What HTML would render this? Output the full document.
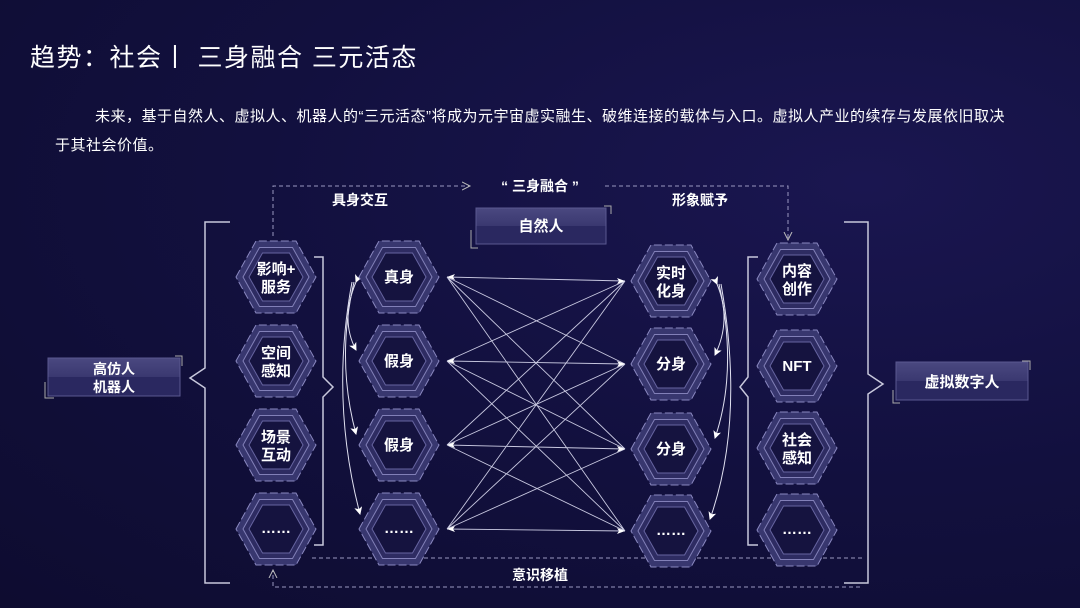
<!DOCTYPE html>
<html><head><meta charset="utf-8"><style>
html,body{margin:0;padding:0;}
body{width:1080px;height:608px;overflow:hidden;background:radial-gradient(ellipse at 80% 30%,#1a1650 0%,#12103e 50%,#0e0c30 100%);font-family:"Liberation Sans","Noto Sans CJK SC",sans-serif;color:#fff;position:relative;}
.t{position:absolute;left:30px;top:38px;font-size:25px;color:#fff;letter-spacing:1.5px;}
.p{position:absolute;left:55px;top:102px;width:955px;font-size:15px;letter-spacing:0.5px;line-height:29px;text-indent:40px;color:#fff;}
svg{position:absolute;left:0;top:0;}
svg text{font-family:"Liberation Sans","Noto Sans CJK SC",sans-serif;fill:#fff;font-weight:bold;text-anchor:middle;}
</style></head><body>
<div class="t">趋势：社会丨 三身融合 三元活态</div>
<div class="p">未来，基于自然人、虚拟人、机器人的“三元活态”将成为元宇宙虚实融生、破维连接的载体与入口。虚拟人产业的续存与发展依旧取决于其社会价值。</div>
<svg width="1080" height="608" viewBox="0 0 1080 608">
<defs>
<g id="hx">
<polygon points="-40,0 -20,-36 20,-36 40,0 20,36 -20,36" fill="#38376f" stroke="#8a88c0" stroke-width="1" stroke-dasharray="8,3"/>
<polygon points="-33,0 -16.5,-29.5 16.5,-29.5 33,0 16.5,29.5 -16.5,29.5" fill="#2e2c62" stroke="#8280b8" stroke-width="1"/>
<polygon points="-27,0 -13.5,-24 13.5,-24 27,0 13.5,24 -13.5,24" fill="#15133f" stroke="#6664a0" stroke-width="1"/>
</g>
<marker id="ar" markerWidth="8" markerHeight="8" refX="7" refY="4" orient="auto"><path d="M0,0 L8,4 L0,8 L2,4z" fill="#fff"/></marker>
<marker id="ad" markerWidth="10" markerHeight="10" refX="8" refY="5" orient="auto"><path d="M0,1 L8,5 L0,9" fill="none" stroke="#bbb" stroke-width="1"/></marker>
<linearGradient id="bx" x1="0" y1="0" x2="0" y2="1"><stop offset="0" stop-color="#4a4880"/><stop offset="0.5" stop-color="#3a3870"/><stop offset="0.5" stop-color="#2a2860"/><stop offset="1" stop-color="#2a2860"/></linearGradient>
</defs>
<g fill="none" stroke="#9a98c0" stroke-width="1" stroke-dasharray="4,3">
<path d="M273,236 V186 H470" marker-end="url(#ad)"/>
<path d="M605,186 H788 V240" marker-end="url(#ad)"/>
<path d="M312,558 H862"/>
<path d="M860,587 H273 V570" marker-end="url(#ad)"/>
</g>
<text x="360" y="205" font-size="14" font-weight="bold">具身交互</text>
<text x="540" y="191" font-size="14">“ 三身融合 ”</text>
<text x="700" y="205" font-size="14">形象赋予</text>
<text x="540" y="580" font-size="14">意识移植</text>
<g>
<rect x="476" y="208" width="130" height="36" fill="url(#bx)" stroke="#5a5890"/>
<path d="M471,230 V248 H478 M604,206 H611 V214" stroke="#aaa" fill="none"/>
<text x="541" y="231" font-size="15">自然人</text>
<rect x="48" y="358" width="132" height="38" fill="url(#bx)" stroke="#5a5890"/>
<path d="M45,382 V398 H54 M175,356 H182 V366" stroke="#aaa" fill="none"/>
<text x="114" y="374" font-size="14">高仿人</text>
<text x="114" y="392" font-size="14">机器人</text>
<rect x="896" y="362" width="132" height="38" fill="url(#bx)" stroke="#5a5890"/>
<path d="M893,390 V403 H900 M1022,361 H1030 V370" stroke="#aaa" fill="none"/>
<text x="962" y="387" font-size="15">虚拟数字人</text>
</g>
<g fill="none" stroke="#c8c8dc" stroke-width="1.5">
<path d="M230,222 H205 V368 L190,378 L205,388 V583 H230"/>
<path d="M314,257 H323 V377 L333,387 L323,397 V545 H314"/>
<path d="M758,257 H748 V377 L740,387 L748,397 V545 H758"/>
<path d="M844,222 H868 V374 L883,384 L868,394 V583 H844"/>
</g>
<g stroke="#c8c8e0" stroke-width="0.9" fill="none">
<path d="M447,277 L625,281 M447,277 L625,364 M447,277 L625,449 M447,277 L625,531
M447,361 L625,281 M447,361 L625,364 M447,361 L625,449 M447,361 L625,531
M447,445 L625,281 M447,445 L625,364 M447,445 L625,449 M447,445 L625,531
M447,529 L625,281 M447,529 L625,364 M447,529 L625,449 M447,529 L625,531"/>
</g>
<g fill="#fff">
<path d="M447,277 l8,-3 l-2,3 l2,3z M447,361 l8,-3 l-2,3 l2,3z M447,445 l8,-3 l-2,3 l2,3z M447,529 l8,-3 l-2,3 l2,3z"/>
<path d="M625,281 l-8,-3 l2,3 l-2,3z M625,364 l-8,-3 l2,3 l-2,3z M625,449 l-8,-3 l2,3 l-2,3z M625,531 l-8,-3 l2,3 l-2,3z"/>
</g>
<g fill="none" stroke="#e0e0f0" stroke-width="1">
<path d="M356,282 Q340,320 356,350" marker-start="url(#ar)" marker-end="url(#ar)"/>
<path d="M354,282 Q336,360 356,434" marker-end="url(#ar)"/>
<path d="M352,282 Q330,400 360,514" marker-end="url(#ar)"/>
<path d="M717,284 Q732,320 715,355" marker-start="url(#ar)" marker-end="url(#ar)"/>
<path d="M719,284 Q738,370 715,438" marker-end="url(#ar)"/>
<path d="M721,284 Q745,420 710,519" marker-end="url(#ar)"/>
</g>
<use href="#hx" x="276" y="277"/><use href="#hx" x="276" y="361"/><use href="#hx" x="276" y="445"/><use href="#hx" x="276" y="529"/>
<use href="#hx" x="399" y="277"/><use href="#hx" x="399" y="361"/><use href="#hx" x="399" y="445"/><use href="#hx" x="399" y="529"/>
<use href="#hx" x="671" y="281"/><use href="#hx" x="671" y="364"/><use href="#hx" x="671" y="449"/><use href="#hx" x="671" y="531"/>
<use href="#hx" x="797" y="279"/><use href="#hx" x="797" y="366"/><use href="#hx" x="797" y="448"/><use href="#hx" x="797" y="530"/>
<g font-size="15">
<text x="276" y="274">影响+</text><text x="276" y="292">服务</text>
<text x="276" y="358">空间</text><text x="276" y="376">感知</text>
<text x="276" y="442">场景</text><text x="276" y="460">互动</text>
<text x="276" y="533">……</text>
<text x="399" y="282">真身</text>
<text x="399" y="366">假身</text>
<text x="399" y="450">假身</text>
<text x="399" y="533">……</text>
<text x="671" y="278">实时</text><text x="671" y="296">化身</text>
<text x="671" y="369">分身</text>
<text x="671" y="454">分身</text>
<text x="671" y="535">……</text>
<text x="797" y="276">内容</text><text x="797" y="294">创作</text>
<text x="797" y="371">NFT</text>
<text x="797" y="445">社会</text><text x="797" y="463">感知</text>
<text x="797" y="534">……</text>
</g>
</svg>
</body></html>
